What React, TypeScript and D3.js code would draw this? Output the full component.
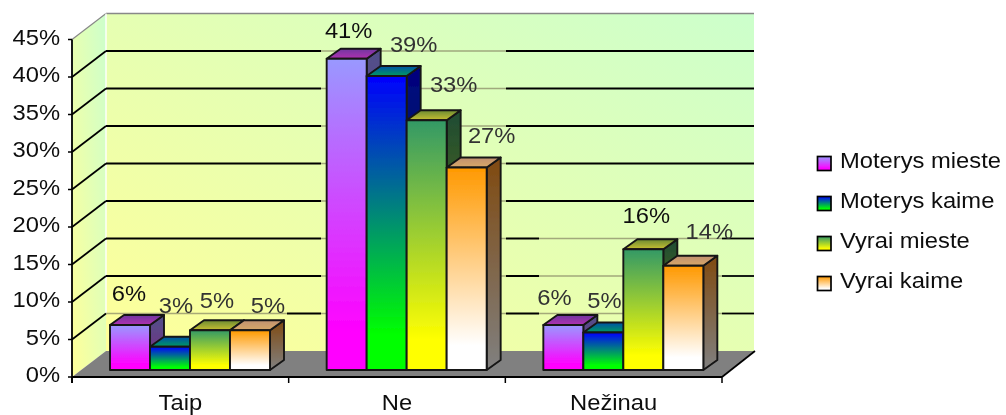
import React from "react";
import * as d3 from "d3";

const categories = ["Taip", "Ne", "Nežinau"];
const seriesNames = ["Moterys mieste", "Moterys kaime", "Vyrai mieste", "Vyrai kaime"];
const taipValues = [6, 3.1, 5.3, 5.3];
const neValues = [41.5, 39.2, 33.3, 27];
const nezinauValues = [6, 5, 16.1, 13.9];
const allValues = [taipValues, neValues, nezinauValues];
const valueLabels = [
  ["6%", "3%", "5%", "5%"],
  ["41%", "39%", "33%", "27%"],
  ["6%", "5%", "16%", "14%"],
];
const yTicks = [0, 5, 10, 15, 20, 25, 30, 35, 40, 45];

// label placement relative to the top front-left corner of each bar
const labelOffsets = [
  [[19, -24], [26, -34], [27, -22], [38, -17]],
  [[22, -21], [47, -24], [47, -28], [45, -25]],
  [[11, -20], [21, -25], [23, -26], [46, -27]],
];
const labelFills = [
  ["#111", "#333", "#333", "#333"],
  ["#111", "#333", "#333", "#333"],
  ["#333", "#333", "#111", "#333"],
];

const frontFills = [["#9999ff", "#ff00ff"], ["#0000ff", "#00ff00"], ["#339966", "#ffff00"], ["#ff9900", "#ffffff"]];
const topFills = [["#7038a0", "#b030b0"], ["#0050a8", "#009a60"], ["#6b8a30", "#c8c030"], ["#c09070", "#d8a868"]];
const sideFills = [["#50508a", "#802880"], ["#000080", "#006040"], ["#1f4c33", "#808000"], ["#804a10", "#808080"]];

// stretches of the back-wall grid where the line is pale rather than black
const paleSpans = [
  { x0: 106, x1: 287, values: [5] },
  { x0: 321, x1: 506, values: [5, 10, 15, 20, 25, 30, 35, 40] },
  { x0: 539, x1: 722, values: [5, 10, 15] },
];

const WIDTH = 1006, HEIGHT = 415;
const FONT = "'Liberation Sans', Arial, sans-serif";
const STRETCH = 1.08;
const plot = { left: 72, right: 722, top: 39.5, bottom: 377 };
const wall = { dx: 34, dy: -26, right: 754 };
const barDepth = { dx: 14, dy: -10 };
const barLift = 7;

const y = d3.scaleLinear().domain([0, 45]).range([plot.bottom, plot.top]);
const x0 = d3.scaleBand().domain(categories).range([plot.left, plot.right]);
const x1 = d3.scaleBand().domain(seriesNames).range([38, 198]);

const Txt = ({ x, y, size = 22, anchor = "start", fill = "#111", children }: any) => (
  <text transform={`translate(${x},${y}) scale(${STRETCH},1)`} fontFamily={FONT} fontSize={size} textAnchor={anchor} fill={fill}>
    {children}
  </text>
);

const Grad = ({ id, stops, end = 1 }: any) => (
  <linearGradient id={id} x1="0" y1="0" x2="0" y2="1">
    <stop offset="0" stopColor={stops[0]} />
    <stop offset={end} stopColor={stops[1]} />
  </linearGradient>
);

function gridSegments(v: number) {
  const pale = paleSpans.filter((s) => s.values.includes(v)).sort((a, b) => a.x0 - b.x0);
  const black: [number, number][] = [];
  let cur = plot.left + wall.dx;
  for (const s of pale) {
    if (s.x0 > cur) black.push([cur, s.x0]);
    cur = s.x1;
  }
  if (cur < wall.right) black.push([cur, wall.right]);
  return { pale, black };
}

export default function App() {
  const backX = plot.left + wall.dx;
  const backTop = y(45) + wall.dy;
  const backBottom = y(0) + wall.dy;
  const poly = (p: number[][]) => p.map((q) => q.join(",")).join(" ");
  return (
    <svg width={WIDTH} height={HEIGHT} style={{ position: "absolute", left: 0, top: 0, display: "block" }}>
      <defs>
        <linearGradient id="wall" x1="0" y1="1" x2="1" y2="0">
          <stop offset="0" stopColor="#ffff99" />
          <stop offset="1" stopColor="#ccffcc" />
        </linearGradient>
        {seriesNames.map((_, i) => (
          <React.Fragment key={i}>
            <Grad id={`front${i}`} stops={frontFills[i]} end={0.88} />
            <Grad id={`top${i}`} stops={topFills[i]} />
            <Grad id={`side${i}`} stops={sideFills[i]} />
          </React.Fragment>
        ))}
        <filter id="soft" x="-5%" y="-5%" width="110%" height="110%">
          <feGaussianBlur stdDeviation="0.45" />
        </filter>
      </defs>
      <rect width={WIDTH} height={HEIGHT} fill="#fff" />
      <g filter="url(#soft)">
        {/* walls */}
        <polygon points={poly([[plot.left, y(45)], [backX, backTop], [backX, backBottom], [plot.left, y(0)]])} fill="url(#wall)" />
        <rect x={backX} y={backTop} width={wall.right - backX} height={backBottom - backTop} fill="url(#wall)" />
        <line x1={plot.left} y1={y(45)} x2={backX} y2={backTop} stroke="#888" strokeWidth={1.2} />
        <line x1={backX} y1={backTop} x2={wall.right} y2={backTop} stroke="#888" strokeWidth={1.5} />
        <line x1={backX} y1={backTop} x2={backX} y2={y(5) + wall.dy} stroke="#fff" strokeWidth={1.4} />
        {/* floor */}
        <polygon
          points={poly([[plot.left, y(0)], [backX, backBottom], [wall.right + 1, backBottom], [plot.right, y(0)]])}
          fill="#808080"
        />
        {/* grid */}
        {yTicks.filter((v) => v > 0 && v < 45).map((v) => {
          const g = gridSegments(v);
          const gy = y(v) + wall.dy;
          return (
            <g key={v}>
              <line x1={plot.left} y1={y(v)} x2={backX} y2={gy} stroke="#000" strokeWidth={1.7} />
              {g.black.map(([a, b]) => <line key={a} x1={a} x2={b} y1={gy} y2={gy} stroke="#000" strokeWidth={1.8} />)}
              {g.pale.map((s) => <line key={s.x0} x1={s.x0} x2={s.x1} y1={gy} y2={gy} stroke="#8c8c68" strokeOpacity={0.75} strokeWidth={1.3} />)}
            </g>
          );
        })}
        {/* axes */}
        <line x1={plot.left} y1={y(45)} x2={plot.left} y2={y(0) + 6} stroke="#000" strokeWidth={1.8} />
        <line x1={plot.left} y1={y(0)} x2={plot.right} y2={y(0)} stroke="#000" strokeWidth={2} />
        <line x1={plot.right} y1={y(0)} x2={wall.right + 1} y2={backBottom} stroke="#000" strokeWidth={1.7} />
        {yTicks.map((v) => (
          <line key={v} x1={plot.left - 4} x2={plot.left} y1={y(v)} y2={y(v)} stroke="#000" strokeWidth={1.5} />
        ))}
        {[...categories.map((c) => x0(c)!), plot.right].map((t) => (
          <line key={t} x1={t} x2={t} y1={y(0)} y2={y(0) + 6} stroke="#000" strokeWidth={1.5} />
        ))}
        {yTicks.map((v) => (
          <Txt key={v} x={60} y={y(v) + 5} anchor="end">{`${v}%`}</Txt>
        ))}
        {categories.map((c) => (
          <Txt key={c} x={x0(c)! + x0.bandwidth() / 2} y={410} anchor="middle">{c}</Txt>
        ))}
        {/* bars */}
        {categories.map((c, ci) =>
          allValues[ci].map((val, si) => {
            const left = x0(c)! + x1(seriesNames[si])!;
            const right = left + x1.bandwidth();
            const base = y(0) - barLift;
            const top = y(val) - barLift;
            const { dx, dy } = barDepth;
            return (
              <g key={si} stroke="#161616" strokeWidth={1.9} strokeLinejoin="round">
                <polygon points={poly([[right, top], [right + dx, top + dy], [right + dx, base + dy], [right, base]])} fill={`url(#side${si})`} />
                <polygon points={poly([[left, top], [left + dx, top + dy], [right + dx, top + dy], [right, top]])} fill={`url(#top${si})`} />
                <rect x={left} y={top} width={right - left} height={base - top} fill={`url(#front${si})`} />
              </g>
            );
          })
        )}
        {/* value labels */}
        {categories.map((c, ci) =>
          allValues[ci].map((val, si) => (
            <Txt
              key={si}
              x={x0(c)! + x1(seriesNames[si])! + labelOffsets[ci][si][0]}
              y={y(val) - barLift + labelOffsets[ci][si][1]}
              anchor="middle"
              fill={labelFills[ci][si]}
            >
              {valueLabels[ci][si]}
            </Txt>
          ))
        )}
        {/* legend */}
        {seriesNames.map((n, i) => (
          <g key={n}>
            <rect x={817.5} y={156.5 + i * 40} width={13.5} height={14} fill={`url(#front${i})`} stroke="#000" strokeWidth={1.7} />
            <Txt x={840} y={168 + i * 40}>{n}</Txt>
          </g>
        ))}
      </g>
    </svg>
  );
}
